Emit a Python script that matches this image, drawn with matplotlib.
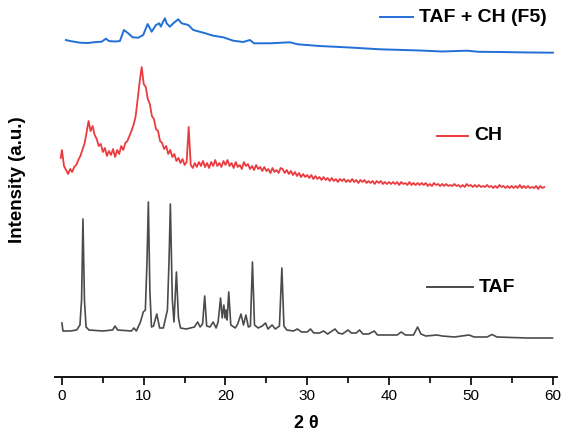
import numpy as np
import matplotlib
matplotlib.use("Agg")
import matplotlib.pyplot as plt

plt.rcParams['font.family'] = ['Liberation Sans', 'DejaVu Sans']

# TAF pattern: (2 theta, intensity) read peak by peak
taf_theta = [0.0, 0.12, 1.0, 1.8, 2.2, 2.4, 2.57, 2.75, 2.95, 3.3, 5.0, 6.2, 6.5, 6.8,
             8.5, 8.8, 9.1, 9.6, 9.95, 10.2, 10.4, 10.57, 10.75, 10.95, 11.2, 11.6,
             11.95, 12.4, 12.9, 13.1, 13.26, 13.5, 13.7, 14.0, 14.25, 14.5, 15.2,
             16.2, 16.6, 16.9, 17.2, 17.46, 17.7, 18.1, 18.5, 18.85, 19.1, 19.4,
             19.6, 19.8, 19.95, 20.07, 20.2, 20.4, 20.65, 21.2, 21.5, 21.9, 22.2,
             22.5, 22.8, 23.05, 23.3, 23.55, 24.0, 24.5, 24.9, 25.2, 25.7, 26.1,
             26.6, 26.9, 27.15, 27.5, 28.3, 28.8, 29.3, 30.0, 30.4, 30.8, 31.5,
             32.0, 32.5, 33.4, 33.8, 34.3, 35.0, 35.4, 36.0, 36.4, 36.8, 37.5,
             38.2, 38.6, 40.0, 41.0, 41.5, 42.0, 43.0, 43.5, 43.9, 44.5, 45.9,
             46.5, 48.0, 49.8, 50.4, 52.0, 52.6, 53.2, 55.0, 57.0, 58.5, 60.0]
taf_int = [19, 11, 11, 12, 17, 42, 123, 42, 15, 12, 11, 12, 16, 12,
           11, 14, 11, 20, 30, 32, 80, 140, 52, 15, 16, 28,
           14, 14, 32, 82, 138, 42, 20, 70, 24, 14, 13,
           15, 20, 15, 18, 46, 16, 15, 20, 14, 20, 44,
           24, 37, 24, 32, 22, 50, 17, 14, 18, 28, 17,
           27, 15, 16, 80, 17, 14, 16, 19, 13, 17, 13,
           16, 74, 16, 12, 11, 13, 10, 10, 13, 9, 9,
           11, 8, 13, 9, 8, 12, 9, 9, 12, 8, 8,
           11, 7, 7, 7, 10, 7, 7, 15, 8, 6, 7,
           6, 5, 7, 5, 5, 7.5, 5, 4.5, 4, 4, 4]

# CH pattern, start point then 0.25 degree steps from 0 to 59
ch_start = [-0.15, 34]
ch_int = [
    42, 26, 22, 18, 23, 20, 25, 27, 32, 36, 42, 48, 59, 71, 61, 66, 57, 53, 46, 48,
    40, 44, 36, 41, 37, 43, 35, 42, 38, 46, 42, 49, 51, 56, 61, 67, 75, 92, 110, 125,
    108, 105, 93, 88, 76, 73, 63, 61, 51, 49, 43, 46, 38, 42, 35, 38, 31, 34, 29, 33,
    27, 30, 65, 27, 24, 29, 25, 30, 26, 31, 25, 29, 24, 30, 26, 32, 26, 29, 25, 31,
    27, 32, 26, 29, 24, 30, 25, 27, 23, 30, 26, 28, 23, 26, 22, 27, 23, 25, 21, 25,
    21, 23, 19, 24, 20, 22, 19, 24, 23, 19, 22, 18, 21, 17, 20, 16, 19, 15, 18, 15,
    17, 14, 17, 13, 16, 13, 15, 12, 15, 12, 14, 11, 14, 11, 13, 10, 13, 11, 13, 10,
    12, 10, 13, 10, 12, 9, 12, 10, 12, 9, 11, 9, 11, 8, 11, 9, 11, 8, 10, 8,
    10, 8, 10, 8, 10, 7, 10, 8, 9, 7, 10, 7, 9, 7, 9, 7, 9, 7, 9, 6,
    8, 6, 9, 7, 8, 6, 8, 6, 8, 6, 7, 6, 8, 6, 7, 5, 7, 5, 8, 6,
    7, 5, 7, 5, 7, 5, 6, 5, 7, 5, 6, 4, 6, 4, 7, 5, 6, 4, 6, 4,
    6, 4, 6, 4, 7, 4, 6, 4, 6, 4, 5, 4, 6, 3, 6, 4, 5]
ch_theta = np.concatenate([[ch_start[0]], np.arange(0, 59.01, 0.25)])
ch_int = [ch_start[1]] + ch_int

# TAF + CH (F5) pattern
f5_theta = [0.49, 0.98, 2.2, 3.2, 3.83, 4.86, 5.38, 5.75, 6.08, 6.6, 7.09, 7.58, 8.1,
            8.65, 9.33, 9.94, 10.48, 10.76, 10.97, 11.5, 11.9, 12.1, 12.35, 12.6,
            12.8, 13.2, 13.7, 14.22, 14.64, 15.45, 16.06, 17.28, 18.5, 19.73, 20.95,
            22.17, 22.99, 23.48, 25.44, 27.88, 28.86, 31.5, 35.2, 38.9, 43.8, 46.5,
            49.5, 51.0, 53.6, 56.5, 60.05]
f5_int = [17, 16, 14.3, 14, 14.7, 15.3, 18.3, 16, 15.7, 15.5, 16, 27, 23.7,
          19.7, 19.3, 22, 33, 28.7, 25.3, 32, 33.7, 30.3, 35, 38.7,
          33.7, 30.3, 34.3, 37.7, 33.7, 32, 27, 24.3, 21.3, 19.7, 16.3,
          15, 17, 13.7, 13.7, 14.7, 12.7, 11, 9.5, 7.7, 6.5, 5.5,
          6.3, 5.2, 5, 4.6, 4.3]

offsets = {'TAF': 35, 'CH': 185, 'F5': 320}
c_taf, c_ch, c_f5 = '#4b4b4b', '#ec3b3f', '#2170d8'

fig = plt.figure(figsize=(5.62, 4.38), dpi=100)
ax = fig.add_axes([55 / 562, 61 / 438, 502 / 562, 367 / 438])

ax.plot(taf_theta, np.array(taf_int) + offsets['TAF'], color=c_taf, lw=1.2)
ax.plot(ch_theta, np.array(ch_int) + offsets['CH'], color=c_ch, lw=1.3)
ax.plot(f5_theta, np.array(f5_int) + offsets['F5'], color=c_f5, lw=1.4)

ax.set_xlim(-0.85, 60.55)
ax.set_ylim(0, 367)

for s in ['top', 'right', 'left']:
    ax.spines[s].set_visible(False)
ax.spines['bottom'].set_linewidth(1.3)
ax.set_yticks([])
ax.set_xticks(range(0, 61, 10))
ax.set_xticks(range(5, 60, 10), minor=True)
ax.tick_params(axis='x', which='major', length=6, width=1.2, labelsize=11, pad=3)
ax.tick_params(axis='x', which='minor', length=4, width=1.2)

ax.set_xlabel('2 θ', fontsize=13, fontweight='bold', labelpad=8)
fig.text(18 / 562, 1 - 180 / 438, 'Intensity (a.u.)', rotation=90, fontsize=13.5,
         fontweight='bold', ha='center', va='center')

# curve labels with a short line sample
labels = [('TAF + CH (F5)', c_f5, 380, 413, 17),
          ('CH', c_ch, 437, 468, 136),
          ('TAF', c_taf, 427, 473, 287)]
for name, col, x0, x1, yp in labels:
    ya = (377 - yp) / 367
    ax.plot([(x0 - 55) / 502, (x1 - 55) / 502], [ya, ya], color=col, lw=1.4,
            transform=ax.transAxes, clip_on=False)
    ax.text((x1 + 6 - 55) / 502, ya, name, transform=ax.transAxes, fontsize=14,
            fontweight='bold', va='center', ha='left')

fig.savefig('out.png', dpi=100)
